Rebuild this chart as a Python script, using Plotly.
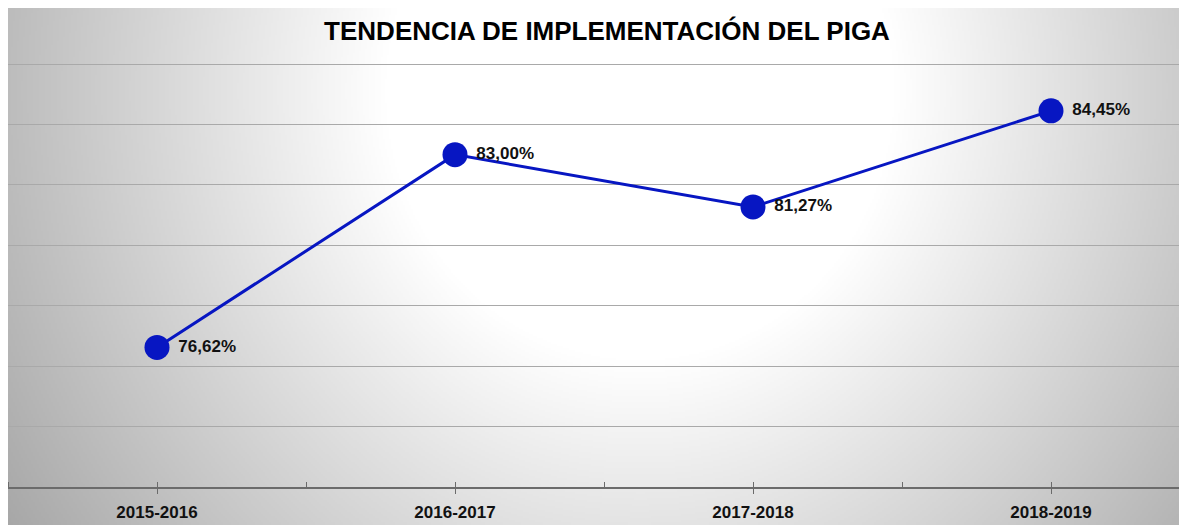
import base64
import struct
import zlib

import numpy as np
import plotly.graph_objects as go

# Data
periodos = ["2015-2016", "2016-2017", "2017-2018", "2018-2019"]
implementacion = [76.62, 83.00, 81.27, 84.45]

W, H = 1179, 525
BLUE = "#0716C2"
FONT = "Liberation Sans"


def gray_png(arr):
    """Encode a 2-D uint8 array as a grayscale PNG data URI."""
    h, w = arr.shape
    raw = b"".join(b"\x00" + arr[i].tobytes() for i in range(h))

    def chunk(tag, data):
        c = struct.pack(">I", len(data)) + tag + data
        return c + struct.pack(">I", zlib.crc32(tag + data) & 0xFFFFFFFF)

    png = b"\x89PNG\r\n\x1a\n"
    png += chunk(b"IHDR", struct.pack(">IIBBBBB", w, h, 8, 0, 0, 0, 0))
    png += chunk(b"IDAT", zlib.compress(raw, 9))
    png += chunk(b"IEND", b"")
    return "data:image/png;base64," + base64.b64encode(png).decode()


# Radial background: white in the upper centre fading to grey at the edges
gw, gh = 586, 259
yy, xx = np.mgrid[0:gh, 0:gw]
px = 8 + xx * (W - 8) / (gw - 1)
py = 8 + yy * (H - 8) / (gh - 1)
d = np.sqrt(((px - 640) / 640) ** 2 + ((py - 90) / 680) ** 2)
t = np.clip((d - 0.4) / 0.8, 0, 1)
bg = (255 - 90 * t).astype(np.uint8)
bg_uri = gray_png(bg)

# Plot-area geometry: y from 72 % (bottom) to 86 % (top gridline)
left, top_grid, bottom = 8, 64, 487
y_lo, y_hi = 72, 86
px_per_unit = (bottom - top_grid) / (y_hi - y_lo)
top = 62  # a little headroom so the 86 % gridline is drawn
y_top = y_hi + (top_grid - top) / px_per_unit
band = 298  # pixels per category
x_idx = list(range(len(periodos)))
x_max = -0.5 + (W - left) / band
plot_h = bottom - top

tick_pos = []
tick_txt = []
for i, p in enumerate(periodos):
    tick_pos += [i - 0.5, i]
    tick_txt += ["", p]

fig = go.Figure()
fig.add_trace(
    go.Scatter(
        x=x_idx,
        y=implementacion,
        mode="lines+markers+text",
        line=dict(color=BLUE, width=3),
        marker=dict(size=25, color=BLUE),
        texttemplate=" %{y:.2f}%",
        textposition="middle right",
        textfont=dict(family=FONT, size=17, color="#111111", weight="bold"),
        cliponaxis=False,
        showlegend=False,
    )
)

fig.add_layout_image(
    dict(
        source=bg_uri,
        xref="paper",
        yref="paper",
        x=0,
        y=1 + (top - 8) / plot_h,
        sizex=1,
        sizey=(H - 8) / plot_h,
        xanchor="left",
        yanchor="top",
        sizing="stretch",
        layer="below",
    )
)

fig.update_layout(
    width=W,
    height=H,
    margin=dict(l=left, r=0, t=top, b=H - bottom),
    paper_bgcolor="white",
    plot_bgcolor="rgba(0,0,0,0)",
    separators=",.",
    title=dict(
        text="TENDENCIA DE IMPLEMENTACIÓN DEL PIGA",
        font=dict(family=FONT, size=26, color="#000000", weight="bold"),
        x=607 / W,
        xref="container",
        xanchor="center",
        y=1 - 31 / H,
        yref="container",
        yanchor="middle",
    ),
    xaxis=dict(
        range=[-0.5, x_max],
        tickmode="array",
        tickvals=tick_pos,
        ticktext=tick_txt,
        ticks="outside",
        ticklen=5,
        tickwidth=1.3,
        tickcolor="#6b6b6b",
        ticklabelstandoff=4,
        minor=dict(
            tickmode="array",
            tickvals=tick_pos,
            ticks="inside",
            ticklen=5,
            tickwidth=1.3,
            tickcolor="#6b6b6b",
        ),
        showline=True,
        linecolor="#6b6b6b",
        linewidth=1.6,
        showgrid=False,
        zeroline=False,
        tickfont=dict(family=FONT, size=17, color="#111111", weight="bold"),
        fixedrange=True,
    ),
    yaxis=dict(
        range=[y_lo, y_top],
        tick0=y_lo,
        dtick=2,
        showticklabels=False,
        showgrid=True,
        gridcolor="#a9a9a9",
        gridwidth=1,
        zeroline=False,
        showline=False,
        fixedrange=True,
    ),
)

fig.write_html("out.html")
